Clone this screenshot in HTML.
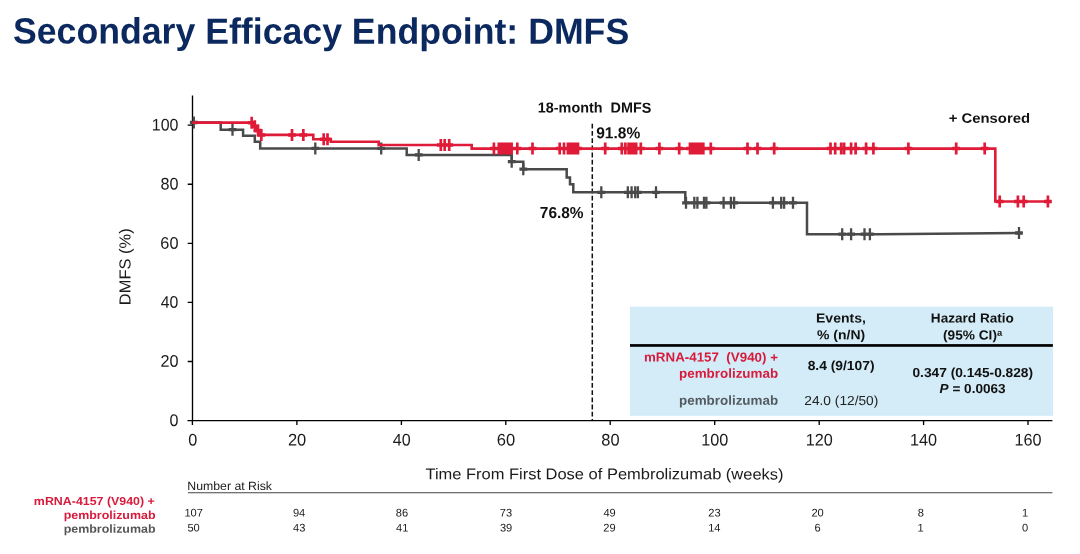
<!DOCTYPE html>
<html><head><meta charset="utf-8"><title>Secondary Efficacy Endpoint: DMFS</title>
<style>
html,body{margin:0;padding:0;background:#fff;}
body{width:1080px;height:554px;position:relative;overflow:hidden;}
svg text{font-family:"Liberation Sans",Arial,sans-serif;white-space:pre;}
</style></head><body>
<svg width="1080" height="554" viewBox="0 0 1080 554" style="position:absolute;left:0;top:0">
<rect x="630" y="306.7" width="423.1" height="109.1" fill="#d3ecf7"/>
<rect x="630" y="344.1" width="422.9" height="2.7" fill="#000"/>
<g stroke="#000" stroke-width="1.35" fill="none">
<path d="M192.5,95.6V420.5"/>
<path d="M187.5,420.55H1052.4"/>
<path d="M187.7,125.15H192.5M187.7,184.23H192.5M187.7,243.31H192.5M187.7,302.39H192.5M187.7,361.47H192.5"/>
<path d="M192.4,420.5V424.9M296.9,420.5V424.9M401.4,420.5V424.9M505.8,420.5V424.9M610.2,420.5V424.9M714.7,420.5V424.9M819.2,420.5V424.9M923.6,420.5V424.9M1028.0,420.5V424.9"/>
</g>
<path d="M592.3,123.8V420" stroke="#111" stroke-width="1.5" stroke-dasharray="4.8,2.4" fill="none"/>
<path d="M192.5,122.5H220.7V129.7H243.1V135.8H254.8V141.8H260.2V148.4H406.7V154.9H511.7V161.7H523.3V169.2H566.7V177.5H570V184.2H573.3V192.3H685.3V202.8H807V234.2H880L1019,233.0" stroke="#4a4a4b" stroke-width="2.5" fill="none"/>
<path d="M193.8,116.5V128.5M232.5,123.7V135.7M315.3,142.4V154.4M381.2,142.4V154.4M418.7,148.9V160.9M511.7,155.7V167.7M523.3,163.2V175.2M601.3,186.3V198.3M627.8,186.3V198.3M631.6,186.3V198.3M635.2,186.3V198.3M637.9,186.3V198.3M656,186.3V198.3M686,196.8V208.8M694.3,196.8V208.8M697.4,196.8V208.8M704.0,196.8V208.8M706.4,196.8V208.8M723.6,196.8V208.8M730.9,196.8V208.8M734.1,196.8V208.8M772.9,196.8V208.8M781.2,196.8V208.8M784.1,196.8V208.8M793.0,196.8V208.8M842.2,228.2V240.2M851.1,228.2V240.2M864.5,228.2V240.2M869.9,228.2V240.2M1019,227.0V239.0" stroke="#4a4a4b" stroke-width="2.3" fill="none"/>
<path d="M189.9,122.5H197.7M228.6,129.7H236.4M311.4,148.4H319.2M377.3,148.4H385.1M414.8,154.9H422.6M507.8,161.7H515.6M519.4,169.2H527.2M597.4,192.3H605.2M623.9,192.3H631.7M627.7,192.3H635.5M631.3,192.3H639.1M634.0,192.3H641.8M652.1,192.3H659.9M682.1,202.8H689.9M690.4,202.8H698.2M693.5,202.8H701.3M700.1,202.8H707.9M702.5,202.8H710.3M719.7,202.8H727.5M727.0,202.8H734.8M730.2,202.8H738.0M769.0,202.8H776.8M777.3,202.8H785.1M780.2,202.8H788.0M789.1,202.8H796.9M838.3,234.2H846.1M847.2,234.2H855.0M860.6,234.2H868.4M866.0,234.2H873.8M1015.1,233.0H1022.9" stroke="#4a4a4b" stroke-width="3.3" fill="none"/>
<path d="M192.5,122.65H253.2V126.3H256.4V130.6H259.7V134.9H313.3V139.2H330.8V141.7H378.7V145H471.7V148.6H995.3V201.5H1048" stroke="#e01b38" stroke-width="2.6" fill="none"/>
<path d="M251.7,116.7V128.7M254.8,120.3V132.3M258,124.6V136.6M261.3,128.9V140.9M292,128.9V140.9M303.3,128.9V140.9M323.7,133.2V145.2M327.5,133.2V145.2M440.8,139.0V151.0M444.7,139.0V151.0M449.2,139.0V151.0M493.9,142.6V154.6M498.8,142.6V154.6M500.9,142.6V154.6M503.1,142.6V154.6M505.2,142.6V154.6M507.3,142.6V154.6M509.4,142.6V154.6M511.6,142.6V154.6M517.3,142.6V154.6M532.5,142.6V154.6M559.7,142.6V154.6M564,142.6V154.6M567.9,142.6V154.6M569.9,142.6V154.6M571.9,142.6V154.6M574.0,142.6V154.6M576.0,142.6V154.6M578.0,142.6V154.6M605.2,142.6V154.6M621.8,142.6V154.6M625.4,142.6V154.6M628.6,142.6V154.6M630.5,142.6V154.6M632.4,142.6V154.6M634.3,142.6V154.6M636.2,142.6V154.6M640.8,142.6V154.6M659.4,142.6V154.6M679.2,142.6V154.6M690.0,142.6V154.6M691.9,142.6V154.6M693.8,142.6V154.6M695.7,142.6V154.6M697.6,142.6V154.6M699.5,142.6V154.6M701.4,142.6V154.6M703.3,142.6V154.6M710.8,142.6V154.6M747.5,142.6V154.6M757.5,142.6V154.6M774.2,142.6V154.6M830.5,142.6V154.6M835.2,142.6V154.6M841.2,142.6V154.6M844.1,142.6V154.6M851.1,142.6V154.6M855.6,142.6V154.6M866.1,142.6V154.6M873.4,142.6V154.6M908.4,142.6V154.6M956.2,142.6V154.6M984.7,142.6V154.6M999.7,195.5V207.5M1017.9,195.5V207.5M1023.7,195.5V207.5M1047.9,195.5V207.5" stroke="#e01b38" stroke-width="2.7" fill="none"/>
<path d="M247.8,122.65H255.6M250.9,126.3H258.7M254.1,130.6H261.9M257.4,134.9H265.2M288.1,134.9H295.9M299.4,134.9H307.2M319.8,139.2H327.6M323.6,139.2H331.4M436.9,145H444.7M440.8,145H448.6M445.3,145H453.1M490.0,148.6H497.8M494.9,148.6H502.7M497.0,148.6H504.8M499.2,148.6H507.0M501.3,148.6H509.1M503.4,148.6H511.2M505.5,148.6H513.3M507.7,148.6H515.5M513.4,148.6H521.2M528.6,148.6H536.4M555.8,148.6H563.6M560.1,148.6H567.9M564.0,148.6H571.8M566.0,148.6H573.8M568.0,148.6H575.8M570.1,148.6H577.9M572.1,148.6H579.9M574.1,148.6H581.9M601.3,148.6H609.1M617.9,148.6H625.7M621.5,148.6H629.3M624.7,148.6H632.5M626.6,148.6H634.4M628.5,148.6H636.3M630.4,148.6H638.2M632.3,148.6H640.1M636.9,148.6H644.7M655.5,148.6H663.3M675.3,148.6H683.1M686.1,148.6H693.9M688.0,148.6H695.8M689.9,148.6H697.7M691.8,148.6H699.6M693.7,148.6H701.5M695.6,148.6H703.4M697.5,148.6H705.3M699.4,148.6H707.2M706.9,148.6H714.7M743.6,148.6H751.4M753.6,148.6H761.4M770.3,148.6H778.1M826.6,148.6H834.4M831.3,148.6H839.1M837.3,148.6H845.1M840.2,148.6H848.0M847.2,148.6H855.0M851.7,148.6H859.5M862.2,148.6H870.0M869.5,148.6H877.3M904.5,148.6H912.3M952.3,148.6H960.1M980.8,148.6H988.6M995.8,201.5H1003.6M1014.0,201.5H1021.8M1019.8,201.5H1027.6M1044.0,201.5H1051.8" stroke="#e01b38" stroke-width="3.5" fill="none"/>
<path d="M188,492.8H1052.4" stroke="#444" stroke-width="1.1" fill="none"/>
<text id="title" transform="translate(12.95,43.70) scale(0.9772,1) rotate(0.035 313.9 0)" text-anchor="start" font-size="36.5" fill="#0b295e" font-weight="bold">Secondary Efficacy Endpoint: DMFS</text>
<text id="y100" transform="translate(178.44,130.50) scale(0.9505,1) rotate(0.035 -13.0 0)" text-anchor="end" font-size="16.8" fill="#1a1a1a">100</text>
<text id="y80" transform="translate(178.45,189.58) scale(0.9626,1) rotate(0.035 -8.7 0)" text-anchor="end" font-size="16.8" fill="#1a1a1a">80</text>
<text id="y60" transform="translate(178.45,248.66) scale(0.9700,1) rotate(0.035 -8.6 0)" text-anchor="end" font-size="16.8" fill="#1a1a1a">60</text>
<text id="y40" transform="translate(178.43,307.74) scale(0.9426,1) rotate(0.035 -8.9 0)" text-anchor="end" font-size="16.8" fill="#1a1a1a">40</text>
<text id="y20" transform="translate(178.45,366.82) scale(0.9665,1) rotate(0.035 -8.6 0)" text-anchor="end" font-size="16.8" fill="#1a1a1a">20</text>
<text id="y0" transform="translate(178.44,425.90) scale(0.9585,1) rotate(0.035 -4.0 0)" text-anchor="end" font-size="16.8" fill="#1a1a1a">0</text>
<text id="x0" transform="translate(192.77,445.60) scale(0.9666,1) rotate(0.035 0.0 0)" text-anchor="middle" font-size="16.8" fill="#1a1a1a">0</text>
<text id="x20" transform="translate(297.10,445.60) scale(0.9808,1) rotate(0.035 0.0 0)" text-anchor="middle" font-size="16.8" fill="#1a1a1a">20</text>
<text id="x40" transform="translate(401.80,445.60) scale(0.9576,1) rotate(0.035 0.0 0)" text-anchor="middle" font-size="16.8" fill="#1a1a1a">40</text>
<text id="x60" transform="translate(505.97,445.60) scale(0.9839,1) rotate(0.035 0.0 0)" text-anchor="middle" font-size="16.8" fill="#1a1a1a">60</text>
<text id="x80" transform="translate(610.42,445.60) scale(0.9778,1) rotate(0.035 0.0 0)" text-anchor="middle" font-size="16.8" fill="#1a1a1a">80</text>
<text id="x100" transform="translate(714.68,445.60) scale(0.9659,1) rotate(0.035 0.0 0)" text-anchor="middle" font-size="16.8" fill="#1a1a1a">100</text>
<text id="x120" transform="translate(819.18,445.60) scale(0.9659,1) rotate(0.035 0.0 0)" text-anchor="middle" font-size="16.8" fill="#1a1a1a">120</text>
<text id="x140" transform="translate(923.58,445.60) scale(0.9659,1) rotate(0.035 0.0 0)" text-anchor="middle" font-size="16.8" fill="#1a1a1a">140</text>
<text id="x160" transform="translate(1027.98,445.60) scale(0.9659,1) rotate(0.035 0.0 0)" text-anchor="middle" font-size="16.8" fill="#1a1a1a">160</text>
<text id="xlab" transform="translate(425.44,479.30) scale(1.0567,1) rotate(0.035 168.8 0)" text-anchor="start" font-size="15.6" fill="#1a1a1a">Time From First Dose of Pembrolizumab (weeks)</text>
<text id="nar" transform="translate(187.27,490.10) scale(1.0255,1) rotate(0.035 40.7 0)" text-anchor="start" font-size="12" fill="#1a1a1a">Number at Risk</text>
<text id="n1_0" transform="translate(193.65,516.50) scale(1.0000,1) rotate(0.035 0.0 0)" text-anchor="middle" font-size="11.1" fill="#1a1a1a">107</text>
<text id="n2_0" transform="translate(193.61,531.50) scale(1.0000,1) rotate(0.035 0.0 0)" text-anchor="middle" font-size="11.1" fill="#1a1a1a">50</text>
<text id="n1_1" transform="translate(299.12,516.50) scale(1.0000,1) rotate(0.035 0.0 0)" text-anchor="middle" font-size="11.1" fill="#1a1a1a">94</text>
<text id="n2_1" transform="translate(299.16,531.50) scale(1.0000,1) rotate(0.035 0.0 0)" text-anchor="middle" font-size="11.1" fill="#1a1a1a">43</text>
<text id="n1_2" transform="translate(402.03,516.50) scale(1.0000,1) rotate(0.035 0.0 0)" text-anchor="middle" font-size="11.1" fill="#1a1a1a">86</text>
<text id="n2_2" transform="translate(402.23,531.50) scale(1.0000,1) rotate(0.035 0.0 0)" text-anchor="middle" font-size="11.1" fill="#1a1a1a">41</text>
<text id="n1_3" transform="translate(505.88,516.50) scale(1.0000,1) rotate(0.035 0.0 0)" text-anchor="middle" font-size="11.1" fill="#1a1a1a">73</text>
<text id="n2_3" transform="translate(506.05,531.50) scale(1.0000,1) rotate(0.035 0.0 0)" text-anchor="middle" font-size="11.1" fill="#1a1a1a">39</text>
<text id="n1_4" transform="translate(609.57,516.50) scale(1.0000,1) rotate(0.035 0.0 0)" text-anchor="middle" font-size="11.1" fill="#1a1a1a">49</text>
<text id="n2_4" transform="translate(609.45,531.50) scale(1.0000,1) rotate(0.035 0.0 0)" text-anchor="middle" font-size="11.1" fill="#1a1a1a">29</text>
<text id="n1_5" transform="translate(714.44,516.50) scale(1.0000,1) rotate(0.035 0.0 0)" text-anchor="middle" font-size="11.1" fill="#1a1a1a">23</text>
<text id="n2_5" transform="translate(714.35,531.50) scale(1.0000,1) rotate(0.035 0.0 0)" text-anchor="middle" font-size="11.1" fill="#1a1a1a">14</text>
<text id="n1_6" transform="translate(817.59,516.50) scale(1.0000,1) rotate(0.035 0.0 0)" text-anchor="middle" font-size="11.1" fill="#1a1a1a">20</text>
<text id="n2_6" transform="translate(817.49,531.50) scale(1.0000,1) rotate(0.035 0.0 0)" text-anchor="middle" font-size="11.1" fill="#1a1a1a">6</text>
<text id="n1_7" transform="translate(920.72,516.50) scale(1.0000,1) rotate(0.035 0.0 0)" text-anchor="middle" font-size="11.1" fill="#1a1a1a">8</text>
<text id="n2_7" transform="translate(920.64,531.50) scale(1.0000,1) rotate(0.035 0.0 0)" text-anchor="middle" font-size="11.1" fill="#1a1a1a">1</text>
<text id="n1_8" transform="translate(1025.04,516.50) scale(1.0000,1) rotate(0.035 0.0 0)" text-anchor="middle" font-size="11.1" fill="#1a1a1a">1</text>
<text id="n2_8" transform="translate(1025.12,531.50) scale(1.0000,1) rotate(0.035 0.0 0)" text-anchor="middle" font-size="11.1" fill="#1a1a1a">0</text>
<text id="l1" transform="translate(154.85,505.00) scale(1.0709,1) rotate(0.035 -55.8 0)" text-anchor="end" font-size="11.6" fill="#d81a3c" font-weight="bold">mRNA-4157 (V940) +</text>
<text id="l2" transform="translate(155.50,518.90) scale(1.0725,1) rotate(0.035 -42.2 0)" text-anchor="end" font-size="11.6" fill="#d81a3c" font-weight="bold">pembrolizumab</text>
<text id="l3" transform="translate(155.50,532.80) scale(1.0725,1) rotate(0.035 -42.2 0)" text-anchor="end" font-size="11.6" fill="#555" font-weight="bold">pembrolizumab</text>
<text id="m18" transform="translate(537.81,112.60) scale(0.9923,1) rotate(0.035 56.4 0)" text-anchor="start" font-size="14.5" fill="#111" font-weight="bold">18-month&#160; DMFS</text>
<text id="p918" transform="translate(596.21,138.15) scale(0.9763,1) rotate(0.035 22.0 0)" text-anchor="start" font-size="15.9" fill="#111" font-weight="bold">91.8%</text>
<text id="p768" transform="translate(539.82,218.10) scale(0.9717,1) rotate(0.035 22.0 0)" text-anchor="start" font-size="15.9" fill="#111" font-weight="bold">76.8%</text>
<text id="cens" transform="translate(948.67,122.65) scale(1.0937,1) rotate(0.035 36.4 0)" text-anchor="start" font-size="13.6" fill="#111" font-weight="bold">+ Censored</text>
<text id="ev1" transform="translate(840.93,322.50) scale(1.0695,1) rotate(0.035 0.0 0)" text-anchor="middle" font-size="13.1" fill="#111" font-weight="bold">Events,</text>
<text id="ev2" transform="translate(841.12,339.30) scale(1.0670,1) rotate(0.035 0.0 0)" text-anchor="middle" font-size="13.1" fill="#111" font-weight="bold">% (n/N)</text>
<text id="hr1" transform="translate(972.35,322.50) scale(1.0375,1) rotate(0.035 0.0 0)" text-anchor="middle" font-size="13.1" fill="#111" font-weight="bold">Hazard Ratio</text>
<text id="hr2" transform="translate(972.59,339.50) scale(1.0453,1) rotate(0.035 0.0 0)" text-anchor="middle" font-size="13.1" fill="#111" font-weight="bold">(95% CI)<tspan font-size="9" dy="-3.8">a</tspan></text>
<text id="t1" transform="translate(777.96,361.60) scale(1.0284,1) rotate(0.035 -64.6 0)" text-anchor="end" font-size="13.0" fill="#d81a3c" font-weight="bold">mRNA-4157&#160; (V940) +</text>
<text id="t2" transform="translate(778.15,377.70) scale(1.0321,1) rotate(0.035 -47.2 0)" text-anchor="end" font-size="13.0" fill="#d81a3c" font-weight="bold">pembrolizumab</text>
<text id="t3" transform="translate(778.15,404.70) scale(1.0321,1) rotate(0.035 -47.2 0)" text-anchor="end" font-size="13.0" fill="#535b60" font-weight="bold">pembrolizumab</text>
<text id="e1" transform="translate(841.09,370.00) scale(1.0573,1) rotate(0.035 0.0 0)" text-anchor="middle" font-size="13.1" fill="#111" font-weight="bold">8.4 (9/107)</text>
<text id="e2" transform="translate(841.28,405.00) scale(1.0495,1) rotate(0.035 0.0 0)" text-anchor="middle" font-size="13.1" fill="#222">24.0 (12/50)</text>
<text id="h1" transform="translate(972.77,377.00) scale(1.0496,1) rotate(0.035 0.0 0)" text-anchor="middle" font-size="13.1" fill="#111" font-weight="bold">0.347 (0.145-0.828)</text>
<text id="h2" transform="translate(972.58,393.00) scale(1.0370,1) rotate(0.035 0.0 0)" text-anchor="middle" font-size="13.1" fill="#111" font-weight="bold"><tspan font-style="italic">P</tspan> = 0.0063</text>
<text id="ylab" transform="translate(130.6,266.8) rotate(-90.03) scale(1.03,1)" text-anchor="middle" font-size="16" fill="#1a1a1a">DMFS (%)</text>
</svg>
</body></html>
